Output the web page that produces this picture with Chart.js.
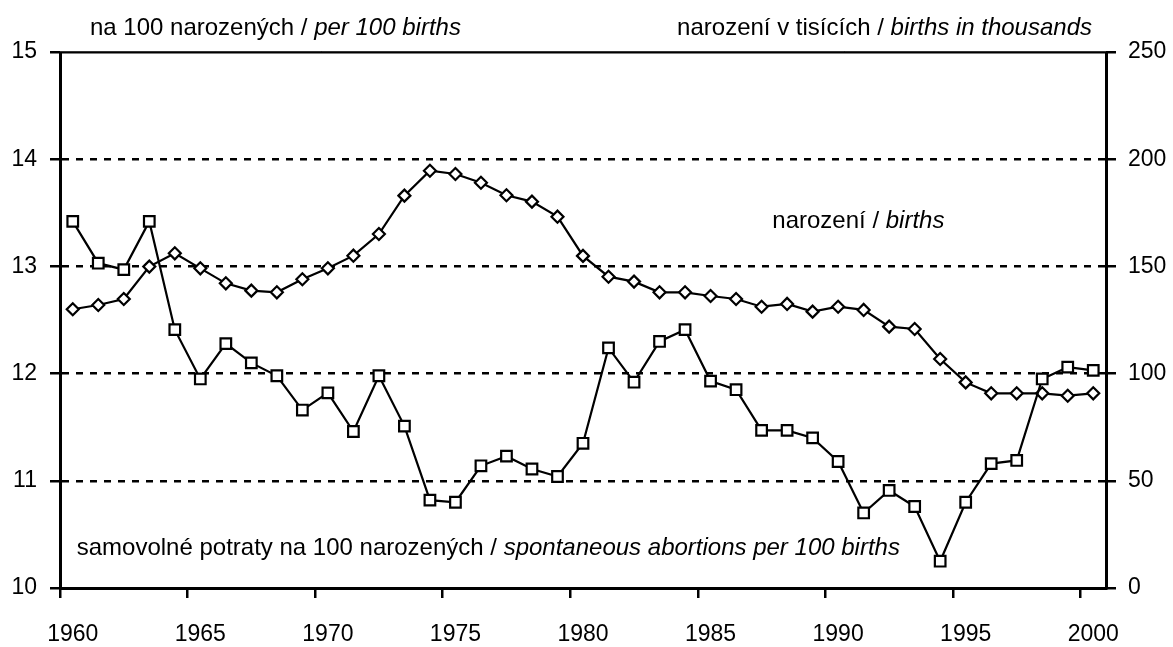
<!DOCTYPE html>
<html>
<head>
<meta charset="utf-8">
<script src="https://cdn.jsdelivr.net/npm/chart.js@4/dist/chart.umd.min.js"></script>
<style>
  html, body { margin: 0; padding: 0; background: #fff; }
  #wrap { width: 1173px; height: 647px; }
</style>
</head>
<body>
<div id="wrap"><canvas id="chartId"></canvas></div>
<script>
const years = ['1960', '1961', '1962', '1963', '1964', '1965', '1966', '1967', '1968', '1969',
    '1970', '1971', '1972', '1973', '1974', '1975', '1976', '1977', '1978', '1979',
    '1980', '1981', '1982', '1983', '1984', '1985', '1986', '1987', '1988', '1989',
    '1990', '1991', '1992', '1993', '1994', '1995', '1996', '1997', '1998', '1999', '2000']

// samovolne potraty na 100 narozenych (left axis)
const abortions = [13.42, 13.03, 12.97, 13.42, 12.41, 11.95, 12.28, 12.10, 11.98, 11.66,
    11.82, 11.46, 11.98, 11.51, 10.82, 10.80, 11.14, 11.23, 11.11, 11.04,
    11.35, 12.24, 11.92, 12.30, 12.41, 11.93, 11.85, 11.47, 11.47, 11.40,
    11.18, 10.70, 10.91, 10.76, 10.25, 10.80, 11.16, 11.19, 11.95, 12.06, 12.03]

// narozeni v tisicich (right axis)
const births = [130.0, 132.0, 134.8, 149.9, 156.1, 149.1, 142.1, 138.7, 137.9, 144.0,
    149.1, 155.0, 165.1, 183.0, 194.6, 193.1, 189.0, 183.2, 180.2, 173.2,
    154.9, 145.2, 142.9, 137.9, 137.9, 136.2, 134.8, 131.2, 132.5, 128.9,
    131.2, 129.7, 121.9, 120.8, 106.8, 95.9, 90.8, 90.8, 90.8, 89.7, 90.8]

const leftTicks = [10, 11, 12, 13, 14, 15]
const rightTicks = [0, 50, 100, 150, 200, 250]

const FONT = '"Liberation Sans", Arial, sans-serif'
const SIZE = 23
const TEXT_SIZE = 24

// draws text made of plain and italic pieces
const drawRuns = (ctx, runs, x, y, align) => {
    let total = 0
    runs.forEach(r => {
        ctx.font = (r[1] ? 'italic ' : '') + TEXT_SIZE + 'px ' + FONT
        total += ctx.measureText(r[0]).width
    })
    let cx = align === 'right' ? x - total : x
    runs.forEach(r => {
        ctx.font = (r[1] ? 'italic ' : '') + TEXT_SIZE + 'px ' + FONT
        ctx.fillText(r[0], cx, y)
        cx += ctx.measureText(r[0]).width
    })
}

const textPlugin = {
    id: 'texts',
    beforeDatasetsDraw(chart) {
        const {ctx, chartArea} = chart
        ctx.save()
        ctx.strokeStyle = '#333'
        ctx.lineWidth = 1
        ctx.beginPath()
        ctx.moveTo(chartArea.left, chartArea.top - 0.5)
        ctx.lineTo(chartArea.right, chartArea.top - 0.5)
        ctx.stroke()
        ctx.restore()
    },
    afterDraw(chart) {
        const {ctx, chartArea} = chart
        const w = chartArea.right - chartArea.left
        const h = chartArea.bottom - chartArea.top
        ctx.save()
        ctx.fillStyle = '#000'
        ctx.textBaseline = 'alphabetic'
        drawRuns(ctx, [['na 100 narozených / ', false], ['per 100 births', true]], 90, 35, 'left')
        drawRuns(ctx, [['narození v tisících / ', false], ['births in thousands', true]], 1092, 35, 'right')
        drawRuns(ctx, [['narození / ', false], ['births', true]], chartArea.left + w * 0.681, chartArea.top + h * 0.329, 'left')
        drawRuns(ctx, [['samovolné potraty na 100 narozených / ', false], ['spontaneous abortions per 100 births', true]],
            chartArea.left + w * 0.016, chartArea.top + h * 0.938, 'left')
        ctx.restore()
    }
}

const localChart = document.getElementById('chartId')

new Chart(localChart, {
    type: 'line',
    data: {
        labels: years,
        datasets: [{
            label: 'samovolné potraty na 100 narozených',
            data: abortions,
            yAxisID: 'y',
            borderColor: '#000',
            borderWidth: 2.2,
            pointStyle: 'rect',
            pointRadius: 7.5,
            pointBorderWidth: 2.2,
            pointBackgroundColor: '#fff',
            pointBorderColor: '#000',
            tension: 0,
            order: 1
        }, {
            label: 'narození',
            data: births,
            yAxisID: 'y2',
            borderColor: '#000',
            borderWidth: 2.2,
            pointStyle: 'rectRot',
            pointRadius: 6,
            pointBorderWidth: 2.2,
            pointBackgroundColor: '#fff',
            pointBorderColor: '#000',
            tension: 0,
            order: 2
        }]
    },
    options: {
        responsive: true,
        maintainAspectRatio: false,
        animation: false,
        layout: { padding: { top: 52, left: 0, right: 0, bottom: 0 } },
        plugins: {
            legend: { display: false },
            tooltip: { enabled: false }
        },
        scales: {
            x: {
                type: 'category',
                offset: true,
                afterFit: s => { s.height = 59 },
                grid: {
                    offset: true,
                    drawOnChartArea: false,
                    drawTicks: true,
                    tickLength: 10,
                    lineWidth: 2.5,
                    tickColor: c => (c.index !== undefined && c.index % 5 === 0) ? '#000' : 'rgba(0,0,0,0)'
                },
                border: { display: true, color: '#000', width: 3 },
                ticks: {
                    autoSkip: false,
                    maxRotation: 0,
                    padding: 23,
                    color: '#000',
                    font: { family: FONT, size: SIZE },
                    callback: (v, i) => i % 5 === 0 ? years[i] : ''
                }
            },
            y: {
                position: 'left',
                min: 10,
                max: 15,
                afterFit: s => { s.width = 60 },
                afterBuildTicks: s => { s.ticks = leftTicks.map(v => ({ value: v })) },
                grid: {
                    color: '#000',
                    lineWidth: 2.5,
                    drawTicks: true,
                    tickLength: 10,
                    tickBorderDash: [],
                    borderDash: c => (c.tick && (c.tick.value === 10 || c.tick.value === 15)) ? [] : [7, 7]
                },
                border: {
                    display: true,
                    color: '#000',
                    width: 3,
                    dash: c => (c.tick && c.tick.value > 10 && c.tick.value < 15) ? [7, 7] : []
                },
                ticks: {
                    padding: 13,
                    color: '#000',
                    font: { family: FONT, size: SIZE }
                }
            },
            y2: {
                position: 'right',
                min: 0,
                max: 250,
                afterFit: s => { s.width = 67 },
                afterBuildTicks: s => { s.ticks = rightTicks.map(v => ({ value: v })) },
                grid: {
                    drawOnChartArea: false,
                    drawTicks: true,
                    tickLength: 10,
                    lineWidth: 2.5,
                    color: '#000',
                    tickBorderDash: []
                },
                border: { display: true, color: '#000', width: 3 },
                ticks: {
                    padding: 12,
                    color: '#000',
                    font: { family: FONT, size: SIZE }
                }
            }
        }
    },
    plugins: [textPlugin]
});
</script>
</body>
</html>
